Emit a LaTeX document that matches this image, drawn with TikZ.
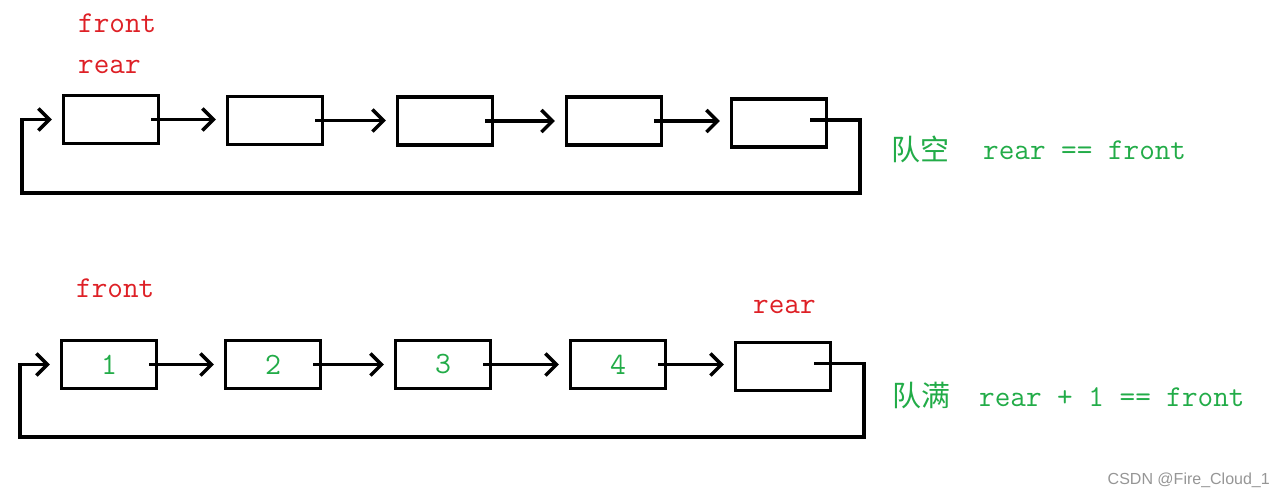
\documentclass[tikz,border=0pt]{standalone}
\usepackage{fontspec}
\setmainfont{Liberation Serif}
\newfontfamily\cjkf{Noto Sans CJK SC}
\newfontfamily\wmf{Liberation Sans}
\usetikzlibrary{arrows.meta}
\definecolor{lblred}{RGB}{222,32,38}
\definecolor{lblgreen}{RGB}{34,172,72}
\definecolor{wmgray}{RGB}{150,150,150}
\begin{document}
\begin{tikzpicture}[x=1pt,y=-1pt,
  cell/.style={draw=black,line width=3.4pt,minimum width=95pt,minimum height=48pt,inner sep=0pt,
    font=\ttfamily\fontsize{31}{31}\selectfont,text=lblgreen},
  link/.style={line width=3.4pt,-{Straight Barb[length=11pt,width=22pt,line width=3.4pt]},shorten >=10pt},
  ptr/.style={anchor=base west,inner sep=0pt,text=lblred,font=\ttfamily\fontsize{30.3}{30}\selectfont},
  cond/.style={anchor=base west,inner sep=0pt,text=lblgreen,font=\ttfamily\fontsize{30.3}{30}\selectfont},
  cjk/.style={anchor=base west,inner sep=0pt,text=lblgreen,font=\cjkf\fontsize{29}{29}\selectfont},
  wmark/.style={anchor=base east,inner sep=0pt,text=wmgray,font=\wmf\fontsize{16}{16}\selectfont}]
\useasboundingbox[fill=white] (0,0) rectangle (1285,496);

% top row
\node[cell] (a1) at (111,119.5) {};
\node[cell] (a2) at (275,120.5) {};
\node[cell] (a3) at (445,121) {};
\node[cell] (a4) at (614,121) {};
\node[cell] (a5) at (779,123) {};
\draw[link] ([xshift=-9pt]a1.east) -- (a2.west |- a1.east);
\draw[link] ([xshift=-9pt]a2.east) -- (a3.west |- a2.east);
\draw[link] ([xshift=-9pt]a3.east) -- (a4.west |- a3.east);
\draw[link] ([xshift=-9pt]a4.east) -- (a5.west |- a4.east);
\coordinate (ar) at (860,193);
\coordinate (al) at (22,193);
\draw[link,line join=miter] ([xshift=-18pt,yshift=3pt]a5.east) -| (ar) -- (al) |- (a1.west);
\node[ptr] (tf) at (78,32) {front};
\node[ptr] (tr) at (78,73) {rear};
\node[cjk] (te) at (891,160) {队空};
\node[cond] (tc) at (983,159) {rear == front};

% bottom row
\node[cell] (b1) at (109,364.5) {1};
\node[cell] (b2) at (273,364.5) {2};
\node[cell] (b3) at (443,364.5) {3};
\node[cell] (b4) at (618,364.5) {4};
\node[cell] (b5) at (783,366.5) {};
\draw[link] ([xshift=-9pt]b1.east) -- (b2.west |- b1.east);
\draw[link] ([xshift=-9pt]b2.east) -- (b3.west |- b2.east);
\draw[link] ([xshift=-9pt]b3.east) -- (b4.west |- b3.east);
\draw[link] ([xshift=-9pt]b4.east) -- (b5.west |- b4.east);
\coordinate (br) at (864,437);
\coordinate (bl) at (20,437);
\draw[link,line join=miter] ([xshift=-18pt,yshift=3pt]b5.east) -| (br) -- (bl) |- (b1.west);
\node[ptr] (bf) at (76,297) {front};
\node[ptr] (brr) at (753,313) {rear};
\node[cjk] (bfu) at (892,406) {队满};
\node[cond] (bc) at (979,406) {rear + 1 == front};

\node[wmark] (wm) at (1270,484) {CSDN @Fire\_Cloud\_1};
\end{tikzpicture}
\end{document}
